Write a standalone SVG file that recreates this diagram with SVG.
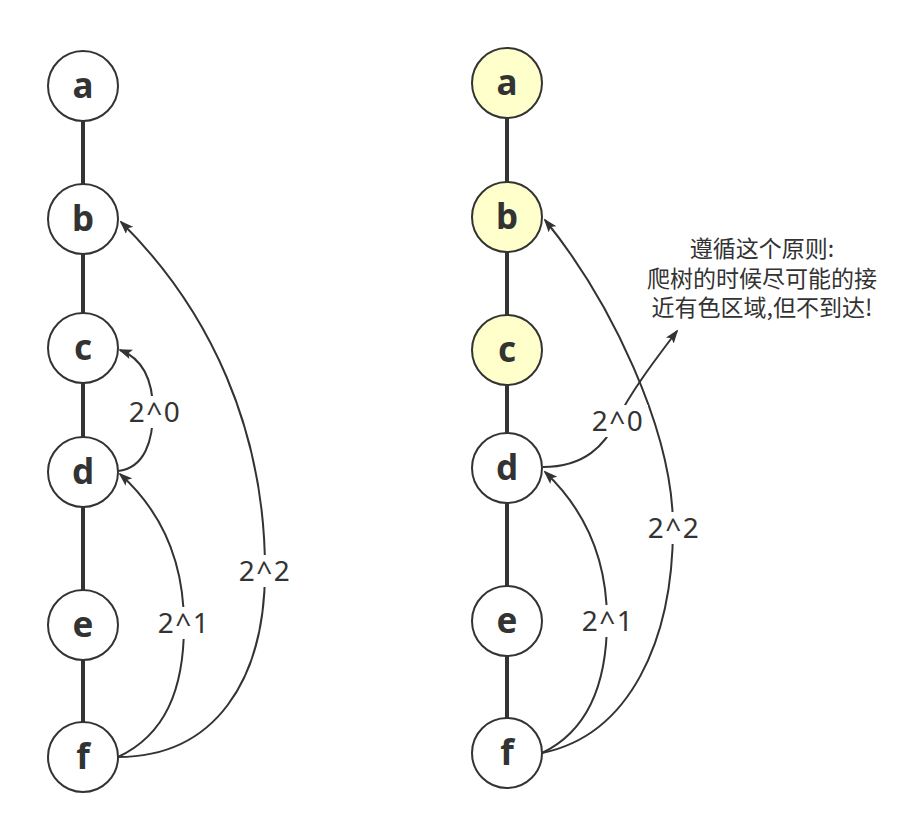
<svg xmlns="http://www.w3.org/2000/svg" width="921" height="825" viewBox="0 0 921 825">
<defs>
<style>
.edge{stroke:#333;stroke-width:4;fill:none}
.node circle{stroke:#333;stroke-width:2;fill:#fff}
.node.hl circle{fill:#ffffcc}
.node text{font-family:"Noto Sans","DejaVu Sans",sans-serif;font-weight:bold;font-size:35px;fill:#333;text-anchor:middle}
.arc{stroke:#333;stroke-width:2;fill:none;marker-end:url(#ah)}
.lbl rect{fill:#fff}
.lbl text{font-family:"Noto Sans","DejaVu Sans",sans-serif;font-size:28px;fill:#333;text-anchor:middle;letter-spacing:1.5px}
.note{font-family:"Noto Sans CJK SC","Noto Sans",sans-serif;font-size:23px;fill:#333;text-anchor:middle}
</style>
<marker id="ah" markerWidth="14" markerHeight="10" refX="12" refY="5" orient="auto" markerUnits="userSpaceOnUse">
<path d="M0,0 L14,5 L0,10 L3,5 Z" fill="#333"/>
</marker>
</defs>
<rect width="921" height="825" fill="#fff"/>
<g id="edges">
<line class="edge" x1="83" y1="121" x2="83" y2="184"/>
<line class="edge" x1="83" y1="254" x2="83" y2="313"/>
<line class="edge" x1="83" y1="383" x2="83" y2="437"/>
<line class="edge" x1="83" y1="507" x2="83" y2="590"/>
<line class="edge" x1="83" y1="660" x2="83" y2="722"/>
<line class="edge" x1="507" y1="118" x2="507" y2="182"/>
<line class="edge" x1="507" y1="252" x2="507" y2="315"/>
<line class="edge" x1="507" y1="385" x2="507" y2="433"/>
<line class="edge" x1="507" y1="503" x2="507" y2="586"/>
<line class="edge" x1="507" y1="656" x2="507" y2="718"/>
</g>
<g id="connectors">
<path class="arc" d="M118,471 C145,468 153,440 153,411 C153,385 146,360 120,350"/>
<path class="arc" d="M118,757 C165,735 184,690 184,625 C184,560 160,510 120,474"/>
<path class="arc" d="M118,757 C215,757 265,680 265,570 C265,430 210,310 121,222"/>
<path class="arc" d="M543,467 C585,467 605,445 617,420 C630,393 655,360 677,331"/>
<path class="arc" d="M542,753 C590,730 607,680 607,620 C607,560 585,510 545,472"/>
<path class="arc" d="M542,753 C630,735 673,640 673,527 C673,430 610,300 545,220"/>
</g>
<g id="labels">
<g class="lbl"><rect x="125" y="396" width="60" height="32"/><text x="155" y="422">2^0</text></g>
<g class="lbl"><rect x="154" y="607" width="60" height="32"/><text x="184" y="633">2^1</text></g>
<g class="lbl"><rect x="235" y="555" width="60" height="32"/><text x="265" y="581">2^2</text></g>
<g class="lbl"><rect x="588" y="405" width="60" height="32"/><text x="618" y="431">2^0</text></g>
<g class="lbl"><rect x="578" y="605" width="60" height="32"/><text x="608" y="631">2^1</text></g>
<g class="lbl"><rect x="644" y="512" width="60" height="32"/><text x="674" y="538">2^2</text></g>
</g>
<g id="left-a" class="node"><circle cx="83" cy="86" r="35"/><text x="83" y="98">a</text></g>
<g id="left-b" class="node"><circle cx="83" cy="219" r="35"/><text x="83" y="231">b</text></g>
<g id="left-c" class="node"><circle cx="83" cy="348" r="35"/><text x="83" y="360">c</text></g>
<g id="left-d" class="node"><circle cx="83" cy="472" r="35"/><text x="83" y="484">d</text></g>
<g id="left-e" class="node"><circle cx="83" cy="625" r="35"/><text x="83" y="637">e</text></g>
<g id="left-f" class="node"><circle cx="83" cy="757" r="35"/><text x="83" y="769">f</text></g>
<g id="right-a" class="node hl"><circle cx="507" cy="83" r="35"/><text x="507" y="95">a</text></g>
<g id="right-b" class="node hl"><circle cx="507" cy="217" r="35"/><text x="507" y="229">b</text></g>
<g id="right-c" class="node hl"><circle cx="507" cy="350" r="35"/><text x="507" y="362">c</text></g>
<g id="right-d" class="node"><circle cx="507" cy="468" r="35"/><text x="507" y="480">d</text></g>
<g id="right-e" class="node"><circle cx="507" cy="621" r="35"/><text x="507" y="633">e</text></g>
<g id="right-f" class="node"><circle cx="507" cy="753" r="35"/><text x="507" y="765">f</text></g>
<g id="note">
<text class="note" x="762" y="257">遵循这个原则:</text>
<text class="note" x="762" y="287">爬树的时候尽可能的接</text>
<text class="note" x="762" y="316">近有色区域,但不到达!</text>
</g>
</svg>
